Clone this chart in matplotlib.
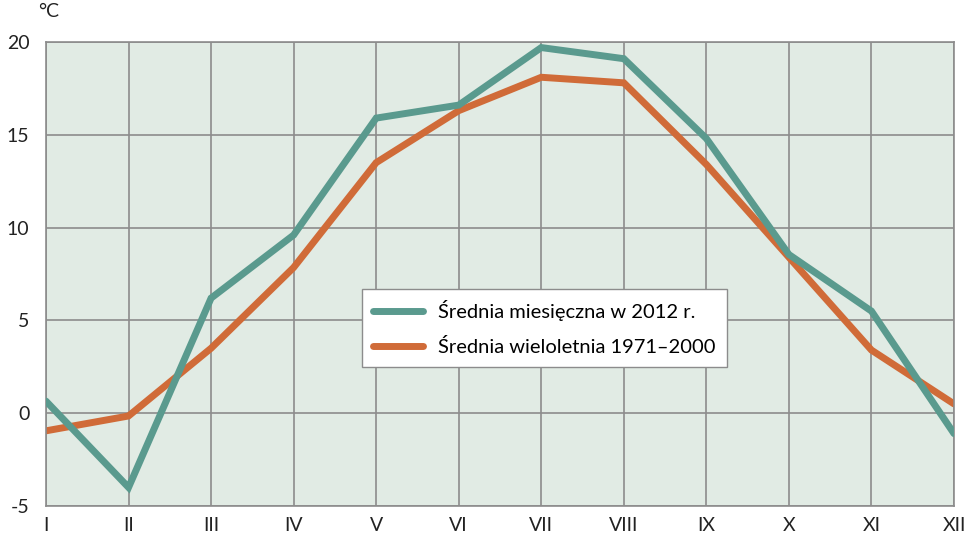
import matplotlib
matplotlib.use('Agg')
from matplotlib import pyplot as plt

months = ['I', 'II', 'III', 'IV', 'V', 'VI', 'VII', 'VIII', 'IX', 'X', 'XI', 'XII']
temp_2012 = [0.65, -4.0, 6.2, 9.6, 15.9, 16.6, 19.7, 19.1, 14.8, 8.55, 5.5, -1.1]
temp_avg = [-0.95, -0.15, 3.5, 7.85, 13.5, 16.3, 18.1, 17.8, 13.4, 8.4, 3.4, 0.5]
yticks = [-5, 0, 5, 10, 15, 20]

plt.rcParams['font.family'] = ['Lato', 'DejaVu Sans']
plt.rcParams['axes.unicode_minus'] = False

fig = plt.figure(figsize=(9.66, 5.33), dpi=100)
ax = fig.add_axes([46/966, 27/533, 908/966, 464/533])
ax.set_facecolor('#e1ebe4')

x = list(range(len(months)))
ax.plot(x, temp_2012, color='#5a9a8e', lw=5, solid_capstyle='round', solid_joinstyle='miter',
        label='Średnia miesięczna w 2012 r.', zorder=3)
ax.plot(x, temp_avg, color='#d06b38', lw=5, solid_capstyle='round', solid_joinstyle='miter',
        label='Średnia wieloletnia 1971–2000', zorder=2)

ax.set_xlim(0, 11)
ax.set_ylim(-5, 20)
ax.set_xticks(x)
ax.set_xticklabels(months)
ax.set_yticks(yticks)
ax.set_yticklabels([str(t) for t in yticks])
ax.tick_params(length=0, labelsize=14, colors='#222222')
ax.tick_params(axis='x', pad=8)
ax.tick_params(axis='y', pad=12)
ax.grid(color='#8c8c8c', lw=1.2)
for s in ax.spines.values():
    s.set_color('#8c8c8c')
    s.set_linewidth(1.2)

ax.text(-0.1, 21.2, '°C', fontsize=14, color='#222222', ha='left', va='bottom')

leg = ax.legend(loc='center', bbox_to_anchor=((544.5 - 46) / 908, (506 - 328) / 464),
                bbox_transform=ax.transAxes, fontsize=14.5, frameon=True, fancybox=False,
                handlelength=2.5, borderpad=0.55, labelspacing=0.8, handletextpad=0.75,
                borderaxespad=0)
leg.get_frame().set_edgecolor('#8c8c8c')
leg.get_frame().set_facecolor('white')
leg.get_frame().set_alpha(1)

fig.savefig('out.png', dpi=100)
